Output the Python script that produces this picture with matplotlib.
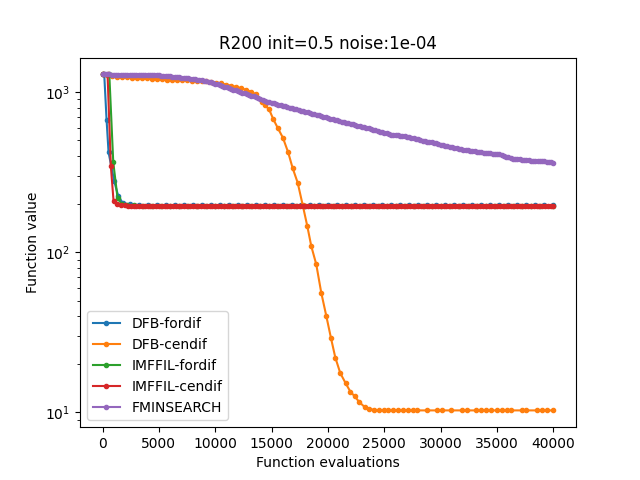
import matplotlib
matplotlib.use("Agg")
import matplotlib.pyplot as plt

# DFB with forward differences
blue_evals = [0, 150, 356, 533, 1040, 1396, 1800, 2400,
              3200, 4000, 4800, 5600, 6400, 7200, 8000, 8800, 9600, 10400,
              11200, 12000, 12800, 13600, 14400, 15200, 16000, 16800, 17600, 18400,
              19200, 20000, 20800, 21600, 22400, 23200, 24000, 24800, 25600, 26400,
              27200, 28000, 28800, 29600, 30400, 31200, 32000, 32800, 33600, 34400,
              35200, 36000, 36800, 37600, 38400, 39200, 40000]
blue_vals = [1290, 1290, 673, 421, 277, 224, 203, 199,
             197, 197, 197, 197, 197, 197, 197, 197, 197, 197,
             197, 197, 197, 197, 197, 197, 197, 197, 197, 197,
             197, 197, 197, 197, 197, 197, 197, 197, 197, 197,
             197, 197, 197, 197, 197, 197, 197, 197, 197, 197,
             197, 197, 197, 197, 197, 197, 197]

# DFB with central differences
orange_evals = [0, 420, 860, 1300, 1740, 2180, 2620, 3060, 3500, 3940,
                4380, 4820, 5260, 5700, 6140, 6580, 7020, 7460, 7900, 8340,
                8780, 9220, 9660, 10100, 10540, 10980, 11420, 11860, 12300, 12740,
                13180, 13620,
                14110, 14400, 14760, 15140, 15560, 16000, 16470, 16860, 17310, 17750,
                18160, 18520, 18960, 19400, 19850, 20270, 20650, 21090, 21570, 21980,
                22370, 22780, 23260, 23670, 24090, 24530,
                24950, 25360, 25810, 26250, 26640, 27090, 27500, 27910, 28780, 29670,
                30110, 30940, 31890, 32330, 33160, 33600, 34050, 34490, 35000, 35440,
                35890, 36240, 37220, 37600, 38560, 39000, 39440, 39980]
orange_vals = [1290, 1270, 1255, 1248, 1242, 1238, 1233, 1228, 1224, 1219,
               1213, 1208, 1203, 1198, 1193, 1190, 1186, 1183, 1180, 1176,
               1172, 1167, 1160, 1148, 1132, 1115, 1097, 1078, 1058, 1033,
               1005, 968,
               865, 825, 785, 679, 594, 519, 420, 336, 272, 198,
               146, 109, 84, 56, 40, 29, 22, 17.6, 15.2, 13.5,
               12.6, 11.6, 10.8, 10.5, 10.4, 10.3,
               10.3, 10.3, 10.3, 10.3, 10.3, 10.3, 10.3, 10.3, 10.3, 10.3,
               10.3, 10.3, 10.3, 10.3, 10.3, 10.3, 10.3, 10.3, 10.3, 10.3,
               10.3, 10.3, 10.3, 10.3, 10.3, 10.3, 10.3, 10.3]

# IMFFIL with forward differences
green_evals = [0, 600, 950, 1330, 1700, 2200, 2800, 3600,
               4400, 5200, 6000, 6800, 7600, 8400, 9200, 10000, 10800, 11600,
               12400, 13200, 14000, 14800, 15600, 16400, 17200, 18000, 18800, 19600,
               20400, 21200, 22000, 22800, 23600, 24400, 25200, 26000, 26800, 27600,
               28400, 29200, 30000, 30800, 31600, 32400, 33200, 34000, 34800, 35600,
               36400, 37200, 38000, 38800, 40000]
green_vals = [1290, 1290, 365, 218, 200, 197, 196, 195,
              195, 195, 195, 195, 195, 195, 195, 195, 195, 195,
              195, 195, 195, 195, 195, 195, 195, 195, 195, 195,
              195, 195, 195, 195, 195, 195, 195, 195, 195, 195,
              195, 195, 195, 195, 195, 195, 195, 195, 195, 195,
              195, 195, 195, 195, 195]

# IMFFIL with central differences
red_evals = [0, 444, 738, 978, 1250, 1600, 2000,
             2250, 2500, 2750, 3000, 3250, 3500, 3750, 4000, 4250, 4500,
             4750, 5000, 5250, 5500, 5750, 6000, 6250, 6500, 6750, 7000,
             7250, 7500, 7750, 8000, 8250, 8500, 8750, 9000, 9250, 9500,
             9750, 10000, 10250, 10500, 10750, 11000, 11250, 11500, 11750, 12000,
             12250, 12500, 12750, 13000, 13250, 13500, 13750, 14000, 14250, 14500,
             14750, 15000, 15250, 15500, 15750, 16000, 16250, 16500, 16750, 17000,
             17250, 17500, 17750, 18000, 18250, 18500, 18750, 19000, 19250, 19500,
             19750, 20000, 20250, 20500, 20750, 21000, 21250, 21500, 21750, 22000,
             22250, 22500, 22750, 23000, 23250, 23500, 23750, 24000, 24250, 24500,
             24750, 25000, 25250, 25500, 25750, 26000, 26250, 26500, 26750, 27000,
             27250, 27500, 27750, 28000, 28250, 28500, 28750, 29000, 29250, 29500,
             29750, 30000, 30250, 30500, 30750, 31000, 31250, 31500, 31750, 32000,
             32250, 32500, 32750, 33000, 33250, 33500, 33750, 34000, 34250, 34500,
             34750, 35000, 35250, 35500, 35750, 36000, 36250, 36500, 36750, 37000,
             37250, 37500, 37750, 38000, 38250, 38500, 38750, 39000, 39250, 39500,
             39750, 40000]
red_vals = [1290, 1290, 344, 208, 200, 197, 196,
            195, 195, 195, 195, 195, 195, 195, 195, 195, 195,
            195, 195, 195, 195, 195, 195, 195, 195, 195, 195,
            195, 195, 195, 195, 195, 195, 195, 195, 195, 195,
            195, 195, 195, 195, 195, 195, 195, 195, 195, 195,
            195, 195, 195, 195, 195, 195, 195, 195, 195, 195,
            195, 195, 195, 195, 195, 195, 195, 195, 195, 195,
            195, 195, 195, 195, 195, 195, 195, 195, 195, 195,
            195, 195, 195, 195, 195, 195, 195, 195, 195, 195,
            195, 195, 195, 195, 195, 195, 195, 195, 195, 195,
            195, 195, 195, 195, 195, 195, 195, 195, 195, 195,
            195, 195, 195, 195, 195, 195, 195, 195, 195, 195,
            195, 195, 195, 195, 195, 195, 195, 195, 195, 195,
            195, 195, 195, 195, 195, 195, 195, 195, 195, 195,
            195, 195, 195, 195, 195, 195, 195, 195, 195, 195,
            195, 195, 195, 195, 195, 195, 195, 195, 195, 195,
            195, 195]

# FMINSEARCH
purple_evals = [0, 200, 400, 600, 800, 1000, 1200, 1400, 1600, 1800,
                2000, 2200, 2400, 2600, 2800, 3000, 3200, 3400, 3600, 3800,
                4000, 4200, 4400, 4600, 4800, 5000, 5200, 5400, 5600, 5800,
                6000, 6200, 6400, 6600, 6800, 7000, 7200, 7400, 7600, 7800,
                8000, 8200, 8400, 8600, 8800, 9000, 9200, 9400, 9600, 9800,
                10000, 10200, 10400, 10600, 10800, 11000, 11200, 11400, 11600, 11800,
                12000, 12200, 12400, 12600, 12800, 13000, 13200, 13400, 13600, 13800,
                14000, 14200, 14400, 14600, 14800, 15000, 15200, 15400, 15600, 15800,
                16000, 16200, 16400, 16600, 16800, 17000, 17200, 17400, 17600, 17800,
                18000, 18200, 18400, 18600, 18800, 19000, 19200, 19400, 19600, 19800,
                20000, 20200, 20400, 20600, 20800, 21000, 21200, 21400, 21600, 21800,
                22000, 22200, 22400, 22600, 22800, 23000, 23200, 23400, 23600, 23800,
                24000, 24200, 24400, 24600, 24800, 25000, 25200, 25400, 25600, 25800,
                26000, 26200, 26400, 26600, 26800, 27000, 27200, 27400, 27600, 27800,
                28000, 28200, 28400, 28600, 28800, 29000, 29200, 29400, 29600, 29800,
                30000, 30200, 30400, 30600, 30800, 31000, 31200, 31400, 31600, 31800,
                32000, 32200, 32400, 32600, 32800, 33000, 33200, 33400, 33600, 33800,
                34000, 34200, 34400, 34600, 34800, 35000, 35200, 35400, 35600, 35800,
                36000, 36200, 36400, 36600, 36800, 37000, 37200, 37400, 37600, 37800,
                38000, 38200, 38400, 38600, 38800, 39000, 39200, 39400, 39600, 39800,
                40000]
purple_vals = [1290, 1290, 1290, 1289, 1288, 1288, 1287, 1286, 1286, 1285,
               1285, 1284, 1284, 1283, 1283, 1282, 1282, 1282, 1282, 1281,
               1281, 1280, 1280, 1279, 1278, 1272, 1265, 1261, 1258, 1255,
               1252, 1248, 1245, 1242, 1238, 1233, 1228, 1223, 1218, 1213,
               1208, 1202, 1196, 1191, 1185, 1177, 1168, 1159, 1150, 1139,
               1128, 1117, 1106, 1095, 1084, 1072, 1060, 1048, 1036, 1025,
               1014, 1003, 992, 981, 970, 960, 950, 940, 930, 917,
               905, 893, 882, 873, 865, 857, 850, 842, 835, 828,
               822, 815, 808, 800, 792, 785, 779, 772, 766, 759,
               752, 746, 740, 734, 728, 722, 716, 709, 703, 696,
               690, 684, 678, 672, 666, 660, 655, 650, 645, 640,
               636, 630, 624, 618, 612, 607, 603, 598, 594, 588,
               582, 577, 572, 567, 562, 557, 552, 547, 543, 540,
               538, 536, 535, 532, 530, 527, 524, 519, 515, 510,
               506, 502, 498, 494, 490, 487, 485, 481, 478, 474,
               470, 466, 463, 460, 457, 453, 450, 447, 444, 441,
               438, 435, 433, 430, 428, 426, 424, 422, 420, 418,
               417, 415, 414, 413, 412, 410, 408, 404, 400, 396,
               392, 388, 385, 383, 381, 380, 379, 377, 376, 375,
               374, 373, 373, 372, 372, 371, 370, 368, 367, 365,
               363]

fig, ax = plt.subplots(figsize=(6.4, 4.8), dpi=100)
ax.plot(blue_evals, blue_vals, marker='.', label='DFB-fordif')
ax.plot(orange_evals, orange_vals, marker='.', label='DFB-cendif')
ax.plot(green_evals, green_vals, marker='.', label='IMFFIL-fordif')
ax.plot(red_evals, red_vals, marker='.', label='IMFFIL-cendif')
ax.plot(purple_evals, purple_vals, marker='.', label='FMINSEARCH')
ax.set_yscale('log')
ax.set_xlabel('Function evaluations')
ax.set_ylabel('Function value')
ax.set_title('R200 init=0.5 noise:1e-04')
ax.legend(loc='lower left')
fig.savefig('out.png')
